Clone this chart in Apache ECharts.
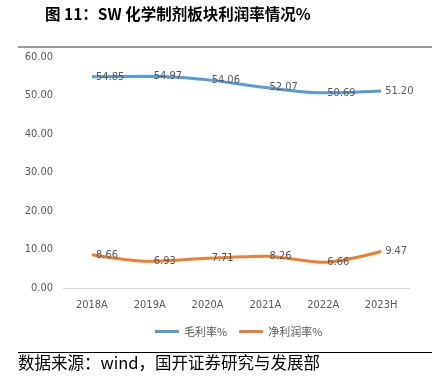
<!DOCTYPE html>
<html><head><meta charset="utf-8">
<script src="https://cdn.jsdelivr.net/npm/echarts@6/dist/echarts.min.js"></script>
<style>html,body{margin:0;padding:0;background:#fff}#c{width:432px;height:379px}</style>
</head><body><div id="c"></div>
<script>
var categories = ['2018A','2019A','2020A','2021A','2022A','2023H'];
var grossMargin = [54.85, 54.97, 54.06, 52.07, 50.69, 51.20];
var netMargin = [8.66, 6.93, 7.71, 8.26, 6.66, 9.47];
var seriesNames = ['毛利率%', '净利润率%'];
var titleText = '图 11：SW 化学制剂板块利润率情况%';
var sourceText = '数据来源：wind，国开证券研究与发展部';

var lblFont = "'Liberation Sans Narrow','DejaVu Sans Condensed',sans-serif";
var chart = echarts.init(document.getElementById('c'));
function lbl(){return {show:true,position:'right',distance:4,color:'#595959',fontSize:11,fontFamily:lblFont,formatter:function(p){return p.value.toFixed(2);}};}
chart.setOption({
  animation:false,
  grid:{left:63,right:22,top:57,bottom:91},
  xAxis:{type:'category',data:categories,boundaryGap:true,
    axisLine:{lineStyle:{color:'#d9d9d9'}},axisTick:{show:false},
    axisLabel:{color:'#595959',fontSize:11,fontFamily:lblFont,margin:12}},
  yAxis:{type:'value',min:0,max:60,interval:10,
    axisLine:{show:false},axisTick:{show:false},splitLine:{show:false},
    axisLabel:{color:'#595959',fontSize:11,fontFamily:lblFont,margin:10,formatter:function(v){return v.toFixed(2);}}},
  legend:{bottom:37,left:150,itemWidth:24,itemHeight:3,itemGap:12,icon:'rect',
    textStyle:{color:'#595959',fontSize:11,fontFamily:"'Noto Sans CJK SC',sans-serif"},
    data:seriesNames},
  series:[
    {name:seriesNames[0],type:'line',data:grossMargin,smooth:0.3,showSymbol:true,symbol:'circle',symbolSize:0.1,
     lineStyle:{color:'#5B9BD5',width:3},itemStyle:{color:'#5B9BD5'},label:lbl()},
    {name:seriesNames[1],type:'line',data:netMargin,smooth:0.3,showSymbol:true,symbol:'circle',symbolSize:0.1,
     lineStyle:{color:'#ED7D31',width:3},itemStyle:{color:'#ED7D31'},label:lbl()}
  ],
  graphic:[
    {type:'text',left:45,top:6,style:{text:titleText,fontSize:15.5,fontWeight:'bold',fill:'#000',fontFamily:"'Noto Sans CJK SC',sans-serif"}},
    {type:'line',shape:{x1:18,y1:47,x2:432,y2:47},style:{stroke:'#333',lineWidth:1}},
    {type:'line',shape:{x1:18,y1:352.5,x2:432,y2:352.5},style:{stroke:'#000',lineWidth:1}},
    {type:'text',left:18,top:354,style:{text:sourceText,fontSize:16.5,fill:'#000',fontFamily:"'Noto Sans CJK SC',sans-serif"}}
  ]
});
</script></body></html>
